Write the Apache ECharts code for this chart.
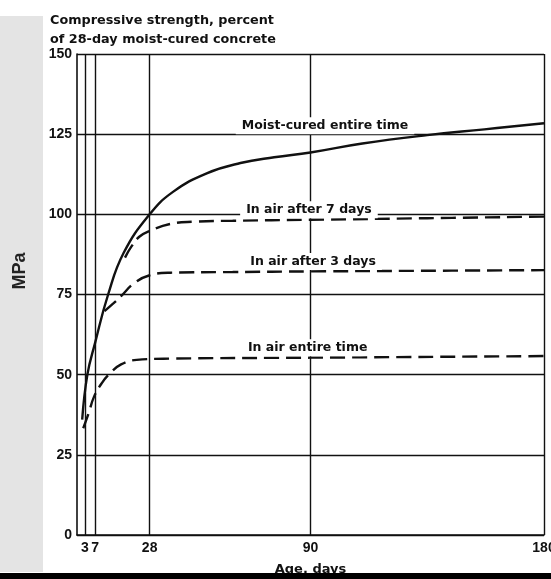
<!DOCTYPE html>
<html>
<head>
<meta charset="utf-8">
<script src="https://cdn.jsdelivr.net/npm/echarts@6/dist/echarts.min.js"></script>
<style>
html,body{margin:0;padding:0;background:#fff;}
#chart{width:551px;height:579px;}
</style>
</head>
<body>
<div id="chart"></div>
<script>
// ---- data ----
const xTicks = [3, 7, 28, 90, 180];
const moistDays = [2, 4, 7, 12, 18, 28, 37, 50, 63, 76, 90, 110, 135, 157, 180];
const moistVals = [36, 50, 60, 75, 88, 100, 107, 112.8, 116, 117.8, 119.3, 122.1, 124.7, 126.5, 128.4];
const air7Days = [18.5, 21, 24, 28, 36, 45, 60, 90, 135, 180];
const air7Vals = [86.5, 90, 93, 94.8, 97, 97.7, 98, 98.3, 98.8, 99.3];
const air3Days = [10.6, 14, 17, 22, 28, 36, 60, 90, 135, 180];
const air3Vals = [69.8, 72.2, 74.5, 78.5, 81, 81.8, 82, 82.2, 82.4, 82.6];
const airDays = [2.4, 4.5, 6.5, 9.5, 12.7, 17, 23, 36, 90, 180];
const airVals = [33.3, 38, 43, 47.3, 50.4, 53.2, 54.6, 55, 55.3, 55.8];
const curveNames = ['Moist-cured entire time', 'In air after 7 days', 'In air after 3 days', 'In air entire time'];
const titleLines = ['Compressive strength, percent', 'of 28-day moist-cured concrete'];
const yName = 'MPa';

const pair = (xs, ys) => xs.map((x, i) => [x, ys[i]]);
const FONT = 'DejaVu Sans';
const NUMFONT = 'Liberation Sans';
const chart = echarts.init(document.getElementById('chart'), null, {renderer: 'canvas'});

function lineSeries(name, d, dashed) {
  return {
    name: name, type: 'line', data: d, z: 3,
    showSymbol: false, symbol: 'none',
    smooth: 0.45,
    lineStyle: {color: '#111', width: 2.4, type: dashed ? [15, 7] : 'solid'}
  };
}
const labelStyle = {
  show: true, position: 'inside', color: '#111', fontFamily: FONT, fontWeight: 'bold', fontSize: 12.5,
  backgroundColor: '#fff', padding: [2, 6]
};
const labelPos = [[95.6, 127.6], [89.4, 101.4], [91, 85.3], [88.9, 58.4]];

chart.setOption({
  animation: false,
  backgroundColor: '#fff',
  title: {
    text: titleLines.join('\n'), left: 45, top: 6,
    textStyle: {fontFamily: FONT, fontWeight: 'bold', fontSize: 12.8, color: '#111', lineHeight: 19}
  },
  grid: {left: 77, right: 7, top: 54, bottom: 44, containLabel: false, outerBoundsMode: 'none'},
  xAxis: {
    type: 'value', min: 0, max: 180,
    name: 'Age, days', nameLocation: 'middle', nameGap: 28,
    nameTextStyle: {fontFamily: FONT, fontWeight: 'bold', fontSize: 13, color: '#111'},
    axisLine: {show: true, lineStyle: {color: '#111', width: 1.6}},
    axisTick: {show: false, customValues: xTicks},
    axisLabel: {customValues: xTicks, margin: 6, fontFamily: NUMFONT, fontWeight: 'bold', fontSize: 14, color: '#111'},
    splitLine: {show: true, lineStyle: {color: '#111', width: 1.4}}
  },
  yAxis: {
    type: 'value', min: 0, max: 150, interval: 25,
    axisLine: {show: true, lineStyle: {color: '#111', width: 1.6}},
    axisTick: {show: false},
    axisLabel: {margin: 5, fontFamily: NUMFONT, fontWeight: 'bold', fontSize: 14, color: '#111'},
    splitLine: {show: true, lineStyle: {color: '#111', width: 1.4}}
  },
  graphic: [
    {type: 'rect', z: -10, shape: {x: 0, y: 16, width: 43, height: 556}, style: {fill: '#e4e4e4'}, silent: true},
    {type: 'text', z: 5, x: 20, y: 271, rotation: Math.PI / 2, silent: true,
      style: {text: yName, fontFamily: NUMFONT, fontWeight: 'bold', fontSize: 18, fill: '#222', align: 'center', verticalAlign: 'middle'}},
    {type: 'rect', z: 10, shape: {x: 0, y: 573, width: 551, height: 6}, style: {fill: '#000'}, silent: true}
  ],
  series: [
    lineSeries(curveNames[0], pair(moistDays, moistVals), false),
    lineSeries(curveNames[1], pair(air7Days, air7Vals), true),
    lineSeries(curveNames[2], pair(air3Days, air3Vals), true),
    lineSeries(curveNames[3], pair(airDays, airVals), true),
    {
      type: 'scatter', z: 1, data: [], silent: true,
      markPoint: {
        symbol: 'rect', symbolSize: 0.01, silent: true,
        data: curveNames.map((n, i) => ({coord: labelPos[i], value: n, label: Object.assign({}, labelStyle, {formatter: n})}))
      }
    }
  ]
});
</script>
</body>
</html>
